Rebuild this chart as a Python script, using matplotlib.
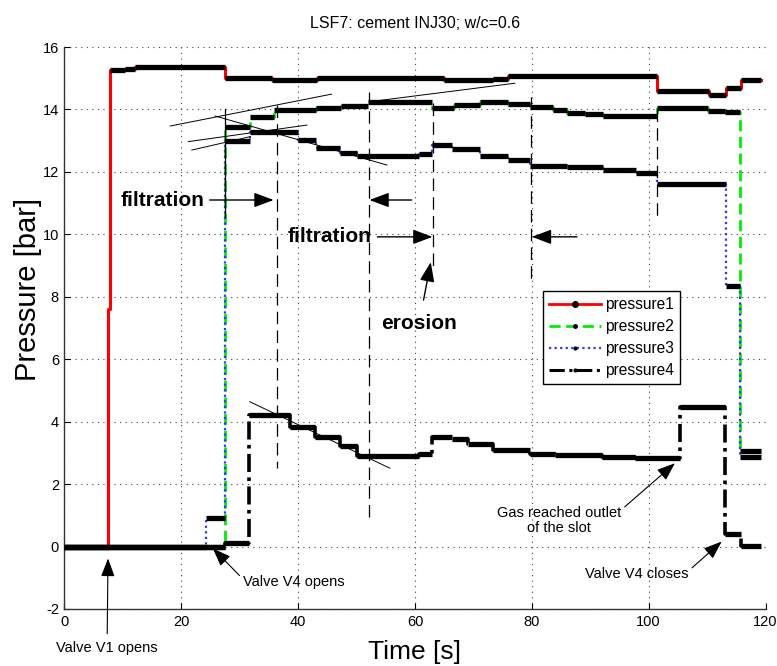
import matplotlib
matplotlib.use("Agg")
import matplotlib.pyplot as plt
from matplotlib import font_manager as fm
from matplotlib.lines import Line2D
import numpy as np

installed = {f.name for f in fm.fontManager.ttflist}
BASE = "Liberation Sans" if "Liberation Sans" in installed else "DejaVu Sans"
plt.rcParams["font.family"] = BASE
plt.rcParams["axes.unicode_minus"] = False

# ---- pressure histories (time at which each level starts, level in bar) ----
p1_t = [0, 7.45, 7.75, 10.35, 12.1, 27.5, 35.5, 43.2, 64.9, 73.4, 75.9, 101.4, 110.4, 113.2, 115.75]
p1_v = [0, 7.6, 15.26, 15.31, 15.36, 15.02, 14.95, 15.0, 14.94, 14.98, 15.06, 14.58, 14.46, 14.68, 14.93]
p1_end = 119.3

p2_t = [0, 27.45, 31.8, 35.8, 43.0, 47.4, 52.0, 62.9, 66.6, 71.1, 76.0, 79.7, 83.7, 86.0, 89.1, 92.2,
        101.4, 110.2, 113.1, 115.6]
p2_v = [0, 13.45, 13.75, 13.97, 14.05, 14.12, 14.23, 14.04, 14.14, 14.23, 14.17, 14.09, 13.98, 13.9,
        13.84, 13.8, 14.04, 13.96, 13.91, 3.05]
p2_end = 119.3

p3_t = [0, 24.3, 27.45, 31.8, 39.9, 43.0, 47.2, 50.0, 60.6, 62.9, 66.3, 71.1, 76.0, 79.7, 86.0, 92.2,
        97.9, 101.4, 113.2, 115.6]
p3_v = [0, 0.9, 13.0, 13.29, 13.02, 12.76, 12.6, 12.51, 12.56, 12.86, 12.73, 12.52, 12.38, 12.2, 12.17,
        12.06, 11.97, 11.61, 8.35, 2.88]
p3_end = 119.3

p4_t = [0, 27.45, 31.6, 38.6, 42.9, 47.2, 50.0, 60.6, 62.9, 66.3, 69.1, 73.4, 79.7, 84.0, 92.0, 97.7,
        105.4, 113.1, 115.8]
p4_v = [0, 0.12, 4.21, 3.84, 3.5, 3.23, 2.91, 2.98, 3.5, 3.43, 3.28, 3.09, 2.98, 2.92, 2.88, 2.83,
        4.48, 0.40, 0.02]
p4_end = 119.2

series_names = ["pressure1", "pressure2", "pressure3", "pressure4"]

# ---- annotation geometry (data units) ----
# vertical dashed guide lines: time, top, bottom
guide_t = [36.4, 52.1, 63.0, 79.9, 101.4]
guide_top = [14.15, 14.57, 14.2, 14.4, 14.0]
guide_bot = [2.5, 0.85, 8.92, 8.4, 10.46]
# solid marker line at valve V4 opening
solid_t, solid_top, solid_bot = 27.4, 14.0, 10.56
# tangent lines: (t0, p0, t1, p1)
tangent_lines = [
    (18.1, 13.47, 45.7, 14.49),
    (25.8, 13.79, 55.2, 12.22),
    (21.2, 12.97, 41.5, 13.50),
    (21.8, 12.70, 31.8, 13.13),
    (31.7, 4.64, 55.7, 2.51),
    (52.3, 14.25, 77.1, 14.84),
]

fig = plt.figure(figsize=(7.77, 6.66), dpi=100)
ax = fig.add_axes([0.0830, 0.0856, 0.9022, 0.8438])


def draw_series(t, v, t_end, color, ls, lw):
    tt = list(t) + [t_end]
    vv = list(v) + [v[-1]]
    ax.plot(tt, vv, drawstyle="steps-post", color=color, linestyle=ls, lw=lw, zorder=3)
    starts = np.array(tt[:-1])
    ends = np.array(tt[1:])
    lev = np.array(vv[:-1])
    keep = (ends - starts) > 0.5
    ax.hlines(lev[keep], starts[keep], ends[keep], colors="k", lw=3.8, zorder=4,
              capstyle="butt")


draw_series(p1_t, p1_v, p1_end, "#ff0000", "-", 2.2)
draw_series(p2_t, p2_v, p2_end, "#00ee00", (0, (4, 2)), 2.0)
draw_series(p3_t, p3_v, p3_end, "#3333ff", (0, (1, 1.5)), 1.6)
draw_series(p4_t, p4_v, p4_end, "k", (0, (5, 1.5, 1, 1.5)), 2.6)

# guide lines
for gt, top, bot in zip(guide_t, guide_top, guide_bot):
    ax.plot([gt, gt], [top, bot], color="k", lw=0.9, linestyle=(0, (10, 5)), zorder=5)
ax.plot([solid_t, solid_t], [solid_top, solid_bot], color="k", lw=0.9, zorder=5)
for x0, y0, x1, y1 in tangent_lines:
    ax.plot([x0, x1], [y0, y1], color="k", lw=0.7, zorder=5)

arrow_big = dict(arrowstyle="-|>,head_length=0.8,head_width=0.3", color="k", lw=1.0,
                 mutation_scale=15, shrinkA=2, shrinkB=0)
arrow_small = dict(arrowstyle="-|>,head_length=0.8,head_width=0.3", color="k", lw=0.8,
                   mutation_scale=14, shrinkA=1, shrinkB=0)

big_font = dict(fontsize=15, fontweight="bold")
ax.annotate("filtration", xy=(35.8, 11.1), xytext=(23.9, 11.1), ha="right", va="center",
            arrowprops=arrow_big, zorder=6, **big_font)
ax.annotate("", xy=(52.2, 11.1), xytext=(59.9, 11.1), arrowprops=arrow_big, zorder=6)
ax.annotate("filtration", xy=(63.0, 9.92), xytext=(52.6, 9.92), ha="right", va="center",
            arrowprops=arrow_big, zorder=6, **big_font)
ax.annotate("", xy=(80.0, 9.92), xytext=(88.2, 9.92), arrowprops=arrow_big, zorder=6)
ax.annotate("erosion", xy=(62.7, 9.11), xytext=(60.7, 7.15), ha="center", va="center",
            arrowprops=dict(arrow_big, shrinkA=8), zorder=6, **big_font)

small_font = dict(fontsize=10.5)
ax.annotate("Gas reached outlet\nof the slot", xy=(104.5, 2.67), xytext=(84.6, 0.83),
            ha="center", va="center", linespacing=1.15,
            arrowprops=dict(arrow_small, relpos=(1.0, 0.85)), zorder=6, **small_font)
ax.annotate("Valve V4 closes", xy=(112.5, 0.16), xytext=(97.9, -0.88), ha="center",
            va="center", arrowprops=dict(arrow_small, relpos=(1.0, 0.7)), zorder=6, **small_font)
ax.annotate("Valve V4 opens", xy=(25.4, -0.06), xytext=(39.3, -1.14), ha="center",
            va="center", arrowprops=dict(arrow_small, relpos=(0.0, 0.7)), zorder=6, **small_font)
ax.annotate("Valve V1 opens", xy=(7.45, -0.38), xytext=(7.3, -3.24), ha="center",
            va="center", annotation_clip=False,
            arrowprops=dict(arrow_small, relpos=(0.5, 1.0), shrinkA=3), zorder=6, **small_font)

# axes styling
ax.set_xlim(0, 120)
ax.set_ylim(-2, 16)
ax.set_xticks(np.arange(0, 121, 20))
ax.set_yticks(np.arange(-2, 17, 2))
ax.tick_params(direction="in", length=4, width=0.8, labelsize=10.5, pad=4,
               top=False, right=False)
ax.grid(True, color="#444444", linestyle=(0, (1, 4)), lw=0.8)
ax.set_axisbelow(True)
for side in ("top", "right"):
    ax.spines[side].set_visible(False)
for side in ("left", "bottom"):
    ax.spines[side].set_color("#333333")
    ax.spines[side].set_linewidth(1.0)

ax.set_title("LSF7: cement INJ30; w/c=0.6", fontsize=11.5, pad=14)
ax.set_xlabel("Time [s]", fontsize=19)
ax.set_ylabel("Pressure [bar]", fontsize=21)
ax.xaxis.set_label_coords(0.4986, -0.055)
ax.yaxis.set_label_coords(-0.032, 0.568)

handles = [
    Line2D([], [], color="#ff0000", lw=2, marker=".", ms=8, mfc="k", mec="k"),
    Line2D([], [], color="#00ee00", lw=2, linestyle=(0, (4, 2)), marker=".", ms=5, mfc="k", mec="k"),
    Line2D([], [], color="#3333ff", lw=1.6, linestyle=(0, (1, 1.5)), marker=".", ms=4, mfc="k", mec="k"),
    Line2D([], [], color="k", lw=2.2, linestyle=(0, (5, 1.5, 1, 1.5)), marker=".", ms=4, mfc="k", mec="k"),
]
leg = ax.legend(handles, series_names, loc="upper left", bbox_to_anchor=(0.6826, 0.5658),
                borderaxespad=0, fontsize=11.2, handlelength=3.3, handletextpad=0.3,
                labelspacing=0.45, borderpad=0.4, fancybox=False, framealpha=1,
                edgecolor="k")
leg.get_frame().set_linewidth(1.0)
leg.set_zorder(10)

fig.savefig("out.png", dpi=100)
